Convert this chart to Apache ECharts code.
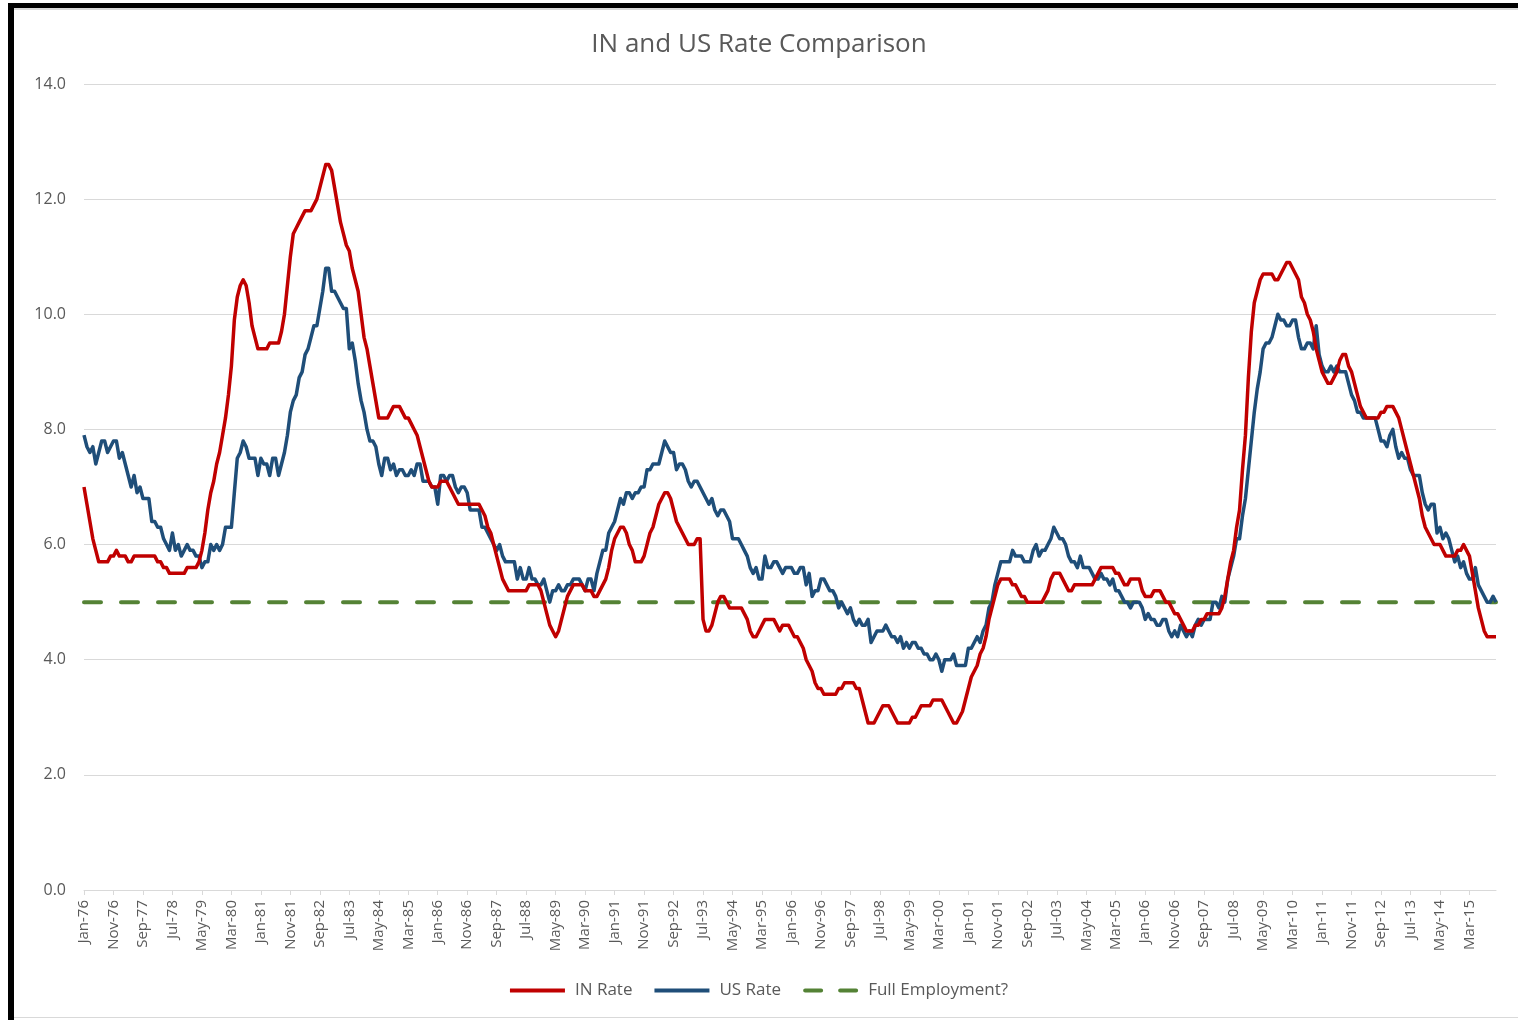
<!DOCTYPE html>
<html>
<head>
<meta charset="utf-8">
<title>IN and US Rate Comparison</title>
<script src="https://cdn.jsdelivr.net/npm/echarts@6/dist/echarts.min.js"></script>
<style>
  html, body { margin: 0; padding: 0; background: #fff; }
  #chart { position: absolute; left: 0; top: 0; width: 1518px; height: 1020px; }
  .frame { position: absolute; pointer-events: none; }
</style>
</head>
<body>
<div id="chart"></div>
<!-- screenshot frame around the excel chart -->
<div class="frame" style="left:8px;top:3px;width:1510px;height:5px;background:#000"></div>
<div class="frame" style="left:8px;top:3px;width:6px;height:1017px;background:#000"></div>
<div class="frame" style="left:14px;top:8px;width:1504px;height:2px;background:#d9d9d9"></div>
<div class="frame" style="left:14px;top:1017px;width:1504px;height:1px;background:#d9d9d9"></div>

<script>
  // monthly, Jan-76 .. Dec-15
  const startYear = 1976
  const endYear = 2015
  const monthNames = ['Jan', 'Feb', 'Mar', 'Apr', 'May', 'Jun', 'Jul', 'Aug', 'Sep', 'Oct', 'Nov', 'Dec']

  const yTicks = [0, 2, 4, 6, 8, 10, 12, 14]

  // Indiana rate, one row per year
  const inRate = [
    7.0, 6.7, 6.4, 6.1, 5.9, 5.7, 5.7, 5.7, 5.7, 5.8, 5.8, 5.9,
    5.8, 5.8, 5.8, 5.7, 5.7, 5.8, 5.8, 5.8, 5.8, 5.8, 5.8, 5.8,
    5.8, 5.7, 5.7, 5.6, 5.6, 5.5, 5.5, 5.5, 5.5, 5.5, 5.5, 5.6,
    5.6, 5.6, 5.6, 5.7, 5.9, 6.2, 6.6, 6.9, 7.1, 7.4, 7.6, 7.9,
    8.2, 8.6, 9.1, 9.9, 10.3, 10.5, 10.6, 10.5, 10.2, 9.8, 9.6, 9.4,
    9.4, 9.4, 9.4, 9.5, 9.5, 9.5, 9.5, 9.7, 10.0, 10.5, 11.0, 11.4,
    11.5, 11.6, 11.7, 11.8, 11.8, 11.8, 11.9, 12.0, 12.2, 12.4, 12.6, 12.6,
    12.5, 12.2, 11.9, 11.6, 11.4, 11.2, 11.1, 10.8, 10.6, 10.4, 10.0, 9.6,
    9.4, 9.1, 8.8, 8.5, 8.2, 8.2, 8.2, 8.2, 8.3, 8.4, 8.4, 8.4,
    8.3, 8.2, 8.2, 8.1, 8.0, 7.9, 7.7, 7.5, 7.3, 7.1, 7.0, 7.0,
    7.0, 7.1, 7.1, 7.1, 7.0, 6.9, 6.8, 6.7, 6.7, 6.7, 6.7, 6.7,
    6.7, 6.7, 6.7, 6.6, 6.5, 6.3, 6.2, 6.0, 5.8, 5.6, 5.4, 5.3,
    5.2, 5.2, 5.2, 5.2, 5.2, 5.2, 5.2, 5.3, 5.3, 5.3, 5.3, 5.2,
    5.0, 4.8, 4.6, 4.5, 4.4, 4.5, 4.7, 4.9, 5.1, 5.2, 5.3, 5.3,
    5.3, 5.3, 5.2, 5.2, 5.2, 5.1, 5.1, 5.2, 5.3, 5.4, 5.6, 5.9,
    6.1, 6.2, 6.3, 6.3, 6.2, 6.0, 5.9, 5.7, 5.7, 5.7, 5.8, 6.0,
    6.2, 6.3, 6.5, 6.7, 6.8, 6.9, 6.9, 6.8, 6.6, 6.4, 6.3, 6.2,
    6.1, 6.0, 6.0, 6.0, 6.1, 6.1, 4.7, 4.5, 4.5, 4.6, 4.8, 5.0,
    5.1, 5.1, 5.0, 4.9, 4.9, 4.9, 4.9, 4.9, 4.8, 4.7, 4.5, 4.4,
    4.4, 4.5, 4.6, 4.7, 4.7, 4.7, 4.7, 4.6, 4.5, 4.6, 4.6, 4.6,
    4.5, 4.4, 4.4, 4.3, 4.2, 4.0, 3.9, 3.8, 3.6, 3.5, 3.5, 3.4,
    3.4, 3.4, 3.4, 3.4, 3.5, 3.5, 3.6, 3.6, 3.6, 3.6, 3.5, 3.5,
    3.3, 3.1, 2.9, 2.9, 2.9, 3.0, 3.1, 3.2, 3.2, 3.2, 3.1, 3.0,
    2.9, 2.9, 2.9, 2.9, 2.9, 3.0, 3.0, 3.1, 3.2, 3.2, 3.2, 3.2,
    3.3, 3.3, 3.3, 3.3, 3.2, 3.1, 3.0, 2.9, 2.9, 3.0, 3.1, 3.3,
    3.5, 3.7, 3.8, 3.9, 4.1, 4.2, 4.4, 4.7, 4.9, 5.1, 5.3, 5.4,
    5.4, 5.4, 5.4, 5.3, 5.3, 5.2, 5.1, 5.1, 5.0, 5.0, 5.0, 5.0,
    5.0, 5.0, 5.1, 5.2, 5.4, 5.5, 5.5, 5.5, 5.4, 5.3, 5.2, 5.2,
    5.3, 5.3, 5.3, 5.3, 5.3, 5.3, 5.3, 5.4, 5.5, 5.6, 5.6, 5.6,
    5.6, 5.6, 5.5, 5.5, 5.4, 5.3, 5.3, 5.4, 5.4, 5.4, 5.4, 5.2,
    5.1, 5.1, 5.1, 5.2, 5.2, 5.2, 5.1, 5.0, 5.0, 4.9, 4.8, 4.8,
    4.7, 4.6, 4.5, 4.5, 4.5, 4.6, 4.6, 4.7, 4.7, 4.8, 4.8, 4.8,
    4.8, 4.8, 4.9, 5.1, 5.4, 5.7, 5.9, 6.3, 6.6, 7.3, 7.9, 8.9,
    9.7, 10.2, 10.4, 10.6, 10.7, 10.7, 10.7, 10.7, 10.6, 10.6, 10.7, 10.8,
    10.9, 10.9, 10.8, 10.7, 10.6, 10.3, 10.2, 10.0, 9.9, 9.7, 9.4, 9.2,
    9.0, 8.9, 8.8, 8.8, 8.9, 9.0, 9.2, 9.3, 9.3, 9.1, 9.0, 8.8,
    8.6, 8.4, 8.3, 8.2, 8.2, 8.2, 8.2, 8.2, 8.3, 8.3, 8.4, 8.4,
    8.4, 8.3, 8.2, 8.0, 7.8, 7.6, 7.4, 7.2, 7.0, 6.8, 6.5, 6.3,
    6.2, 6.1, 6.0, 6.0, 6.0, 5.9, 5.8, 5.8, 5.8, 5.8, 5.9, 5.9,
    6.0, 5.9, 5.8, 5.5, 5.2, 4.9, 4.7, 4.5, 4.4, 4.4, 4.4, 4.4
  ]

  // US rate, one row per year
  const usRate = [
    7.9, 7.7, 7.6, 7.7, 7.4, 7.6, 7.8, 7.8, 7.6, 7.7, 7.8, 7.8,
    7.5, 7.6, 7.4, 7.2, 7.0, 7.2, 6.9, 7.0, 6.8, 6.8, 6.8, 6.4,
    6.4, 6.3, 6.3, 6.1, 6.0, 5.9, 6.2, 5.9, 6.0, 5.8, 5.9, 6.0,
    5.9, 5.9, 5.8, 5.8, 5.6, 5.7, 5.7, 6.0, 5.9, 6.0, 5.9, 6.0,
    6.3, 6.3, 6.3, 6.9, 7.5, 7.6, 7.8, 7.7, 7.5, 7.5, 7.5, 7.2,
    7.5, 7.4, 7.4, 7.2, 7.5, 7.5, 7.2, 7.4, 7.6, 7.9, 8.3, 8.5,
    8.6, 8.9, 9.0, 9.3, 9.4, 9.6, 9.8, 9.8, 10.1, 10.4, 10.8, 10.8,
    10.4, 10.4, 10.3, 10.2, 10.1, 10.1, 9.4, 9.5, 9.2, 8.8, 8.5, 8.3,
    8.0, 7.8, 7.8, 7.7, 7.4, 7.2, 7.5, 7.5, 7.3, 7.4, 7.2, 7.3,
    7.3, 7.2, 7.2, 7.3, 7.2, 7.4, 7.4, 7.1, 7.1, 7.1, 7.0, 7.0,
    6.7, 7.2, 7.2, 7.1, 7.2, 7.2, 7.0, 6.9, 7.0, 7.0, 6.9, 6.6,
    6.6, 6.6, 6.6, 6.3, 6.3, 6.2, 6.1, 6.0, 5.9, 6.0, 5.8, 5.7,
    5.7, 5.7, 5.7, 5.4, 5.6, 5.4, 5.4, 5.6, 5.4, 5.4, 5.3, 5.3,
    5.4, 5.2, 5.0, 5.2, 5.2, 5.3, 5.2, 5.2, 5.3, 5.3, 5.4, 5.4,
    5.4, 5.3, 5.2, 5.4, 5.4, 5.2, 5.5, 5.7, 5.9, 5.9, 6.2, 6.3,
    6.4, 6.6, 6.8, 6.7, 6.9, 6.9, 6.8, 6.9, 6.9, 7.0, 7.0, 7.3,
    7.3, 7.4, 7.4, 7.4, 7.6, 7.8, 7.7, 7.6, 7.6, 7.3, 7.4, 7.4,
    7.3, 7.1, 7.0, 7.1, 7.1, 7.0, 6.9, 6.8, 6.7, 6.8, 6.6, 6.5,
    6.6, 6.6, 6.5, 6.4, 6.1, 6.1, 6.1, 6.0, 5.9, 5.8, 5.6, 5.5,
    5.6, 5.4, 5.4, 5.8, 5.6, 5.6, 5.7, 5.7, 5.6, 5.5, 5.6, 5.6,
    5.6, 5.5, 5.5, 5.6, 5.6, 5.3, 5.5, 5.1, 5.2, 5.2, 5.4, 5.4,
    5.3, 5.2, 5.2, 5.1, 4.9, 5.0, 4.9, 4.8, 4.9, 4.7, 4.6, 4.7,
    4.6, 4.6, 4.7, 4.3, 4.4, 4.5, 4.5, 4.5, 4.6, 4.5, 4.4, 4.4,
    4.3, 4.4, 4.2, 4.3, 4.2, 4.3, 4.3, 4.2, 4.2, 4.1, 4.1, 4.0,
    4.0, 4.1, 4.0, 3.8, 4.0, 4.0, 4.0, 4.1, 3.9, 3.9, 3.9, 3.9,
    4.2, 4.2, 4.3, 4.4, 4.3, 4.5, 4.6, 4.9, 5.0, 5.3, 5.5, 5.7,
    5.7, 5.7, 5.7, 5.9, 5.8, 5.8, 5.8, 5.7, 5.7, 5.7, 5.9, 6.0,
    5.8, 5.9, 5.9, 6.0, 6.1, 6.3, 6.2, 6.1, 6.1, 6.0, 5.8, 5.7,
    5.7, 5.6, 5.8, 5.6, 5.6, 5.6, 5.5, 5.4, 5.4, 5.5, 5.4, 5.4,
    5.3, 5.4, 5.2, 5.2, 5.1, 5.0, 5.0, 4.9, 5.0, 5.0, 5.0, 4.9,
    4.7, 4.8, 4.7, 4.7, 4.6, 4.6, 4.7, 4.7, 4.5, 4.4, 4.5, 4.4,
    4.6, 4.5, 4.4, 4.5, 4.4, 4.6, 4.7, 4.6, 4.7, 4.7, 4.7, 5.0,
    5.0, 4.9, 5.1, 5.0, 5.4, 5.6, 5.8, 6.1, 6.1, 6.5, 6.8, 7.3,
    7.8, 8.3, 8.7, 9.0, 9.4, 9.5, 9.5, 9.6, 9.8, 10.0, 9.9, 9.9,
    9.8, 9.8, 9.9, 9.9, 9.6, 9.4, 9.4, 9.5, 9.5, 9.4, 9.8, 9.3,
    9.1, 9.0, 9.0, 9.1, 9.0, 9.1, 9.0, 9.0, 9.0, 8.8, 8.6, 8.5,
    8.3, 8.3, 8.2, 8.2, 8.2, 8.2, 8.2, 8.0, 7.8, 7.8, 7.7, 7.9,
    8.0, 7.7, 7.5, 7.6, 7.5, 7.5, 7.3, 7.2, 7.2, 7.2, 6.9, 6.7,
    6.6, 6.7, 6.7, 6.2, 6.3, 6.1, 6.2, 6.1, 5.9, 5.7, 5.8, 5.6,
    5.7, 5.5, 5.4, 5.4, 5.6, 5.3, 5.2, 5.1, 5.0, 5.0, 5.1, 5.0
  ]

  // "full employment" reference level
  const fullEmployment = 5.0

  const months = []
  for (let y = startYear; y <= endYear; y++) {
    monthNames.forEach(function (m) {
      months.push(m + '-' + String(y).slice(2))
    })
  }
  const fullEmpData = months.map(function () { return fullEmployment })

  const textGrey = '#595959'
  const font = '"Open Sans", "Noto Sans", sans-serif'

  // legend icons: plain bar for the solid lines, two rounded dashes for the dashed one
  const solidIcon = 'path://M0,0H55V4H0Z'
  const dashIcon = 'path://M2,0H18A2,2 0 0 1 18,4H2A2,2 0 0 1 2,0Z M37,0H53A2,2 0 0 1 53,4H37A2,2 0 0 1 37,0Z'

  const chart = echarts.init(document.getElementById('chart'))
  chart.setOption({
    backgroundColor: '#fff',
    animation: false,
    textStyle: { fontFamily: font },
    title: {
      text: 'IN and US Rate Comparison',
      left: 'center',
      top: 27,
      textStyle: { color: textGrey, fontSize: 26, fontWeight: 'normal', fontFamily: font }
    },
    legend: {
      bottom: 16,
      left: 'center',
      itemWidth: 55,
      itemHeight: 4,
      itemGap: 22,
      textStyle: { color: textGrey, fontSize: 17, fontFamily: font, padding: [0, 0, 0, 5] },
      data: [
        { name: 'IN Rate', icon: solidIcon },
        { name: 'US Rate', icon: solidIcon },
        { name: 'Full Employment?', icon: dashIcon }
      ]
    },
    grid: {
      left: 84,
      right: 22,
      top: 84,
      bottom: 130,
      containLabel: false
    },
    xAxis: {
      type: 'category',
      boundaryGap: false,
      data: months,
      axisLine: { lineStyle: { color: '#d9d9d9', width: 1 } },
      axisTick: { show: true, interval: 9, length: 5, lineStyle: { color: '#d9d9d9' } },
      axisLabel: {
        interval: 9,
        rotate: 90,
        margin: 10,
        color: textGrey,
        fontSize: 15,
        fontFamily: font
      },
      splitLine: { show: false }
    },
    yAxis: {
      type: 'value',
      min: yTicks[0],
      max: yTicks[yTicks.length - 1],
      interval: 2,
      axisLine: { show: false },
      axisTick: { show: false },
      axisLabel: {
        margin: 18,
        color: textGrey,
        fontSize: 16,
        fontFamily: font,
        formatter: function (v) { return v.toFixed(1) }
      },
      splitLine: { lineStyle: { color: '#d9d9d9', width: 1 } }
    },
    series: [
      {
        name: 'IN Rate',
        type: 'line',
        symbol: 'none',
        data: inRate,
        itemStyle: { color: '#c00000' },
        lineStyle: { color: '#c00000', width: 3.5, join: 'round' },
        z: 3
      },
      {
        name: 'US Rate',
        type: 'line',
        symbol: 'none',
        data: usRate,
        itemStyle: { color: '#1f4e79' },
        lineStyle: { color: '#1f4e79', width: 3.5, join: 'round' },
        z: 2
      },
      {
        name: 'Full Employment?',
        type: 'line',
        symbol: 'none',
        data: fullEmpData,
        itemStyle: { color: '#548235' },
        lineStyle: { color: '#548235', width: 4, type: [17, 20], cap: 'round' },
        z: 1
      }
    ]
  })
</script>
</body>
</html>
